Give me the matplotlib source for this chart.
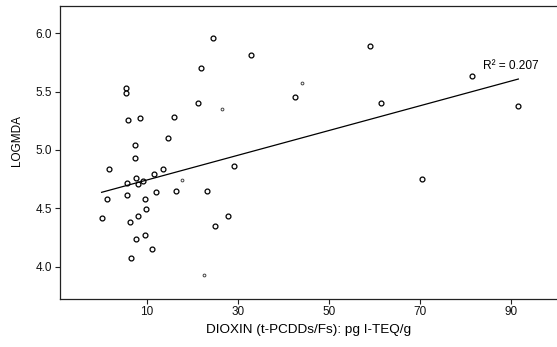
import numpy as np
import matplotlib
matplotlib.use("Agg")
import matplotlib.pyplot as plt

plt.rcParams['font.family'] = ['Liberation Sans', 'DejaVu Sans']

# Observed points (clearly printed circles)
dioxin = [24.6, 33.0, 21.9, 5.4, 5.4, 42.5, 21.2, 5.8, 8.5, 16.0,
          14.6, 7.5, 7.5, 1.7, 13.5, 29.3, 11.7, 7.6, 5.7, 8.0,
          9.3, 1.2, 5.7, 9.7, 12.1, 16.5, 23.3, 70.6, 9.8, 0.1,
          8.2, 27.9, 6.4, 25.0, 7.7, 9.7, 11.1, 6.5, 59.1, 81.6,
          61.6, 91.7]
logmda = [5.96, 5.81, 5.70, 5.53, 5.49, 5.45, 5.40, 5.26, 5.27, 5.28,
          5.10, 5.04, 4.93, 4.84, 4.84, 4.86, 4.79, 4.76, 4.72, 4.71,
          4.73, 4.58, 4.61, 4.58, 4.64, 4.65, 4.65, 4.75, 4.49, 4.42,
          4.43, 4.43, 4.38, 4.35, 4.24, 4.27, 4.15, 4.07, 5.89, 5.63,
          5.40, 5.38]

# Faintly printed points
dioxin_faint = [44.2, 26.5, 17.8, 22.6]
logmda_faint = [5.57, 5.35, 4.74, 3.93]

# Linear fit reported on the chart
fit_intercept = 4.636
fit_slope = 0.0106
r2_text = "R² = 0.207"

x_ticks = [10, 30, 50, 70, 90]
y_ticks = [4.0, 4.5, 5.0, 5.5, 6.0]

fig = plt.figure(figsize=(5.57, 3.47), dpi=100)
ax = fig.add_axes([60/557, 1 - 298.5/347, 1 - 60/557, (298.5 - 6)/347])

ax.plot(dioxin, logmda, linestyle='none', marker='o', markersize=3.5,
        markerfacecolor='white', markeredgecolor='black', markeredgewidth=0.9)
ax.plot(dioxin_faint, logmda_faint, linestyle='none', marker='o', markersize=2.0,
        markerfacecolor='white', markeredgecolor='#444444', markeredgewidth=0.7)

all_x = np.array(dioxin + dioxin_faint)
fx = np.array([all_x.min(), all_x.max()])
ax.plot(fx, fit_intercept + fit_slope * fx, color='black', linewidth=0.9)

ax.text(83.9, 5.72, r2_text, ha='left', va='center', fontsize=8.6)

ax.set_xlim(-9.05, 100.2)
ax.set_ylim(3.727, 6.234)
ax.set_xticks(x_ticks)
ax.set_xticklabels([str(v) for v in x_ticks])
ax.set_yticks(y_ticks)
ax.set_yticklabels([f"{v:.1f}" for v in y_ticks])

for s in ['top', 'left', 'bottom']:
    ax.spines[s].set_color('#222222')
    ax.spines[s].set_linewidth(0.9)
ax.spines['right'].set_visible(False)

ax.tick_params(direction='out', length=3.5, width=0.8, labelsize=8.5, pad=2,
               colors='#222222', labelcolor='#111111')

ax.set_xlabel("DIOXIN (t-PCDDs/Fs): pg I-TEQ/g", fontsize=9.7, labelpad=4)
ax.set_ylabel("LOGMDA", fontsize=8.5)
ax.yaxis.set_label_coords(-0.075, 0.54)

fig.savefig("out.png", dpi=100)
